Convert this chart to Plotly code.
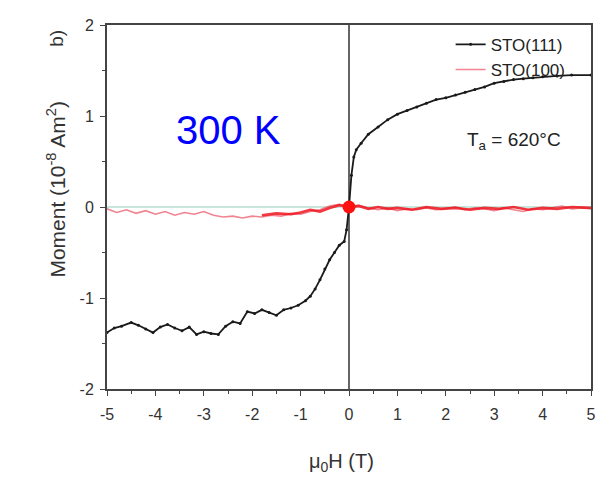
import plotly.graph_objects as go

# STO(111) branch (black)
x111 = [-5.0, -4.85, -4.7, -4.5, -4.35, -4.2, -4.05, -3.9, -3.75, -3.6, -3.45, -3.3, -3.15, -3.0,
        -2.85, -2.7, -2.55, -2.4, -2.25, -2.1, -1.95, -1.8, -1.65, -1.5, -1.35, -1.2, -1.05, -0.9,
        -0.8, -0.7, -0.6, -0.5, -0.4, -0.3, -0.2, -0.1, -0.05, 0.0, 0.05, 0.1, 0.15, 0.25, 0.4,
        0.6, 0.8, 1.0, 1.2, 1.4, 1.6, 1.8, 2.0, 2.2, 2.4, 2.6, 2.8, 3.0, 3.2, 3.4, 3.6, 3.8, 4.0,
        4.3, 4.6, 5.0]
y111 = [-1.38, -1.33, -1.31, -1.27, -1.30, -1.34, -1.38, -1.32, -1.29, -1.33, -1.36, -1.32, -1.40, -1.37,
        -1.39, -1.40, -1.31, -1.26, -1.28, -1.15, -1.17, -1.13, -1.16, -1.19, -1.13, -1.11, -1.08, -1.03,
        -0.98, -0.90, -0.80, -0.68, -0.58, -0.50, -0.42, -0.38, -0.25, 0.0, 0.35, 0.55, 0.63, 0.70, 0.80,
        0.88, 0.96, 1.02, 1.06, 1.10, 1.14, 1.18, 1.20, 1.23, 1.26, 1.29, 1.32, 1.36, 1.38, 1.40, 1.41,
        1.42, 1.43, 1.44, 1.45, 1.45]

# STO(100) (red), full sweep
x100 = [-5.0, -4.8, -4.6, -4.4, -4.2, -4.0, -3.8, -3.6, -3.4, -3.2, -3.0, -2.8, -2.6, -2.4, -2.2,
        -2.0, -1.8, -1.6, -1.4, -1.2, -1.0, -0.8, -0.6, -0.4, -0.2, 0.0, 0.2, 0.4, 0.6, 0.8, 1.0,
        1.2, 1.4, 1.6, 1.8, 2.0, 2.2, 2.4, 2.6, 2.8, 3.0, 3.2, 3.4, 3.6, 3.8, 4.0, 4.2, 4.4, 4.6,
        4.8, 5.0]
y100 = [-0.02, -0.06, -0.03, -0.07, -0.04, -0.08, -0.05, -0.09, -0.06, -0.08, -0.05, -0.09, -0.11, -0.10,
        -0.12, -0.10, -0.11, -0.09, -0.10, -0.07, -0.08, -0.05, -0.03, 0.01, 0.03, 0.0, 0.02, -0.01, -0.03,
        -0.01, -0.04, -0.02, -0.03, -0.01, -0.03, -0.02, 0.0, -0.03, -0.01, -0.02, -0.04, -0.01, -0.03,
        -0.05, -0.02, -0.03, -0.01, 0.01, -0.02, -0.01, -0.02]
# STO(100) (red), return branch
x100b = [-1.8, -1.5, -1.2, -1.0, -0.8, -0.6, -0.4, -0.2, 0.0, 0.2, 0.4, 0.6, 0.8, 1.0, 1.3, 1.6, 1.9,
         2.2, 2.5, 2.8, 3.1, 3.4, 3.7, 4.0, 4.3, 4.6, 5.0]
y100b = [-0.09, -0.07, -0.08, -0.06, -0.03, -0.05, -0.01, 0.02, 0.0, 0.01, -0.02, 0.0, -0.02,
         -0.01, -0.03, 0.0, -0.02, -0.01, -0.03, -0.01, -0.02, 0.0, -0.03, -0.01, -0.02, 0.0, -0.01]

x_ticks = [-5, -4, -3, -2, -1, 0, 1, 2, 3, 4, 5]
y_ticks = [-2, -1, 0, 1, 2]

FONT = "Liberation Sans"

fig = go.Figure()
fig.add_trace(go.Scatter(x=x111, y=y111, mode="lines+markers", name="STO(111)",
                         line=dict(color="#1a1a1a", width=1.8), marker=dict(size=3, color="#1a1a1a")))
fig.add_trace(go.Scatter(x=x100, y=y100, mode="lines", name="STO(100)",
                         line=dict(color="rgba(230,50,70,0.6)", width=1.6)))
fig.add_trace(go.Scatter(x=x100b, y=y100b, mode="lines", showlegend=False,
                         line=dict(color="rgba(240,20,30,0.85)", width=2.6)))
fig.add_trace(go.Scatter(x=[0], y=[0], mode="markers", showlegend=False,
                         marker=dict(size=13, color="#ff1010")))

axis_common = dict(showline=True, linecolor="#444", linewidth=2, mirror=True, ticks="outside",
                   ticklen=5, tickcolor="#444", showgrid=False, zeroline=False,
                   tickfont=dict(family=FONT, size=16, color="#333"))
fig.update_xaxes(range=[-5, 5], tickvals=x_ticks, ticktext=[str(v) for v in x_ticks],
                 ticklabelstandoff=5,
                 minor=dict(ticks="outside", ticklen=3, dtick=0.5, tickcolor="#444"), **axis_common)
fig.update_yaxes(range=[-2, 2], tickvals=y_ticks, ticktext=[str(v) for v in y_ticks],
                 ticklabelstandoff=3,
                 minor=dict(ticks="outside", ticklen=3, dtick=0.5, tickcolor="#444"), **axis_common)

fig.add_shape(type="line", x0=0, x1=0, y0=-2, y1=2, xref="x", yref="y",
              line=dict(color="#333", width=1.5), layer="below")
fig.add_shape(type="line", x0=-5, x1=5, y0=0, y1=0, xref="x", yref="y",
              line=dict(color="rgba(110,190,170,0.5)", width=1.5), layer="below")

fig.add_annotation(text="300 K", x=-2.5, y=0.85, xref="x", yref="y", showarrow=False,
                   font=dict(family=FONT, size=40, color="#0000ff"))
fig.add_annotation(text="T<sub>a</sub> = 620°C", x=3.4, y=0.72, xref="x", yref="y", showarrow=False,
                   font=dict(family=FONT, size=19, color="#222"))
fig.add_annotation(text="Moment (10<sup>-8</sup> Am<sup>2</sup>)", x=-0.106, y=0.547,
                   xref="paper", yref="paper", showarrow=False, textangle=-90,
                   xanchor="center", yanchor="middle",
                   font=dict(family=FONT, size=21, color="#333"))
fig.add_annotation(text="b)", x=-0.106, y=0.964, xref="paper", yref="paper", showarrow=False,
                   textangle=-90, xanchor="center", yanchor="middle",
                   font=dict(family=FONT, size=19, color="#333"))
fig.add_annotation(text="μ<sub>0</sub>H (T)", x=0.485, y=-0.203, xref="paper", yref="paper",
                   showarrow=False, xanchor="center", yanchor="middle",
                   font=dict(family=FONT, size=20, color="#333"))

fig.update_layout(width=607, height=477, margin=dict(l=107, r=11, t=25, b=88),
                  paper_bgcolor="white", plot_bgcolor="white",
                  legend=dict(x=0.71, y=0.995, xanchor="left", yanchor="top", bgcolor="rgba(0,0,0,0)",
                              font=dict(family=FONT, size=17, color="#222"),
                              tracegroupgap=0, itemwidth=30))

fig.write_html("out.html")
